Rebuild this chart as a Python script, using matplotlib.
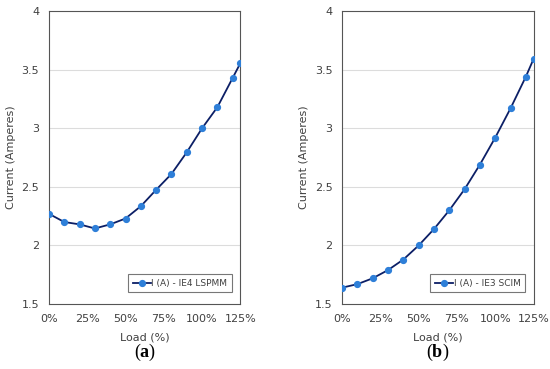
import numpy as np
import matplotlib
matplotlib.use('Agg')
import matplotlib.pyplot as plt
from matplotlib.ticker import FuncFormatter

load_pct = [0, 10, 20, 30, 40, 50, 60, 70, 80, 90, 100, 110, 120, 125]
current_lspmm = [2.27, 2.20, 2.18, 2.145, 2.18, 2.23, 2.335, 2.475, 2.61, 2.795, 3.0, 3.18, 3.43, 3.555]
current_scim = [1.64, 1.67, 1.72, 1.79, 1.88, 2.0, 2.14, 2.30, 2.48, 2.69, 2.92, 3.17, 3.44, 3.59]
series_labels = ['I (A) - IE4 LSPMM', 'I (A) - IE3 SCIM']
panel_labels = ['a', 'b']

plt.rcParams['mathtext.fontset'] = 'custom'
plt.rcParams['mathtext.rm'] = 'Liberation Serif'
plt.rcParams['mathtext.bf'] = 'Liberation Serif:bold'

fig = plt.figure(figsize=(5.5, 3.69), dpi=100)
lefts = [0.089, 0.622]
text_col = '#404040'

for i, (values, label, plabel) in enumerate(zip([current_lspmm, current_scim], series_labels, panel_labels)):
    ax = fig.add_axes([lefts[i], 0.176, 0.348, 0.794])
    ax.plot(load_pct, values, color='#0c1f66', linewidth=1.3, marker='o',
            markersize=4.2, markerfacecolor='#2e7fd8', markeredgecolor='#2e7fd8', label=label, zorder=3)
    ax.set_xlim(0, 125)
    ax.set_ylim(1.5, 4)
    ax.set_xticks([0, 25, 50, 75, 100, 125])
    ax.xaxis.set_major_formatter(FuncFormatter(lambda v, p: '%d%%' % v))
    ax.set_yticks([1.5, 2, 2.5, 3, 3.5, 4])
    ax.set_yticklabels(['1.5', '2', '2.5', '3', '3.5', '4'])
    for y in [2, 2.5, 3, 3.5]:
        ax.axhline(y, color='#dcdcdc', linewidth=0.8, zorder=1)
    ax.tick_params(length=0, labelsize=8, labelcolor=text_col, pad=7)
    for s in ax.spines.values():
        s.set_color('#555555')
        s.set_linewidth(0.8)
    ax.set_xlabel('Load (%)', fontsize=8, color=text_col, labelpad=6)
    ax.set_ylabel('Current (Amperes)', fontsize=8, color=text_col, labelpad=4)
    leg = ax.legend(loc='lower right', fontsize=6.5, frameon=True, fancybox=False,
                    handlelength=2.0, handletextpad=0.1, borderpad=0.5,
                    bbox_to_anchor=(0.98, 0.025))
    leg.get_frame().set_edgecolor('#555555')
    leg.get_frame().set_linewidth(0.8)
    for t in leg.get_texts():
        t.set_color(text_col)
    fig.text(lefts[i] + 0.174, 0.046, r'($\mathbf{%s}$)' % plabel, ha='center', va='center',
             fontsize=13, family='Liberation Serif')

fig.savefig('out.png', dpi=100, facecolor='white')
